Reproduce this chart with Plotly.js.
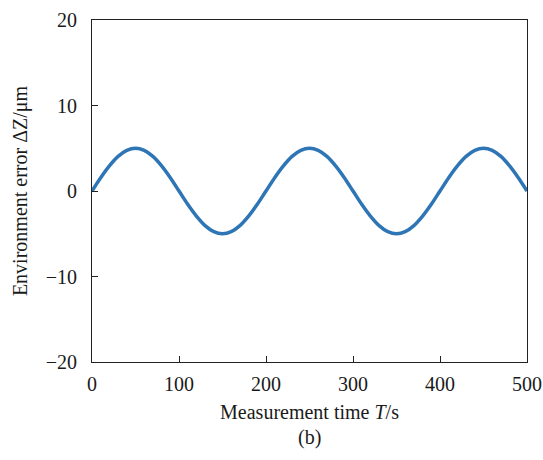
<!DOCTYPE html>
<html><head><meta charset="utf-8">
<script src="https://cdn.plot.ly/plotly-3.0.1.min.js"></script>
<style>html,body{margin:0;padding:0;background:#fff}#c{width:543px;height:460px}</style>
</head><body><div id="c"></div>
<script>
const timeS = [0,10,20,30,40,50,60,70,80,90,100,110,120,130,140,150,160,170,180,190,200,210,220,230,240,250,260,270,280,290,300,310,320,330,340,350,360,370,380,390,400,410,420,430,440,450,460,470,480,490,500];
const errorUm = [0,1.56,2.94,4.05,4.76,5.0,4.76,4.05,2.94,1.56,0,-1.56,-2.94,-4.05,-4.76,-5.0,-4.76,-4.05,-2.94,-1.56,0,1.56,2.94,4.05,4.76,5.0,4.76,4.05,2.94,1.56,0,-1.56,-2.94,-4.05,-4.76,-5.0,-4.76,-4.05,-2.94,-1.56,0,1.56,2.94,4.05,4.76,5.0,4.76,4.05,2.94,1.56,0];
const xTicks = [0,100,200,300,400,500];
const yTicks = [-20,-10,0,10,20];

const font = {family:'"Liberation Serif","Times New Roman",serif', size:20, color:'#1a1a1a'};
Plotly.newPlot('c', [{
  x: timeS, y: errorUm, type:'scatter', mode:'lines',
  line:{color:'#2e75b6', width:3.5, shape:'spline'}, hoverinfo:'skip'
}], {
  width:543, height:460,
  margin:{l:92, r:16, t:20, b:98},
  paper_bgcolor:'#fff', plot_bgcolor:'#fff',
  font: font,
  showlegend:false,
  xaxis:{range:[0,500], tickvals:xTicks, ticks:'inside', ticklen:6, tickcolor:'#222',
    showline:true, linecolor:'#222', linewidth:1, mirror:true, showgrid:false, zeroline:false,
    tickfont:font, ticklabelstandoff:4,
    title:{text:'Measurement time <i>T</i>/s', font:font, standoff:10}},
  yaxis:{range:[-20,20], tickvals:yTicks, ticks:'inside', ticklen:6, tickcolor:'#222',
    showline:true, linecolor:'#222', linewidth:1, mirror:true, showgrid:false, zeroline:false,
    tickfont:font, ticklabelstandoff:10,
    title:{text:'Environment error ΔZ/μm', font:font, standoff:12}},
  annotations:[{text:'(b)', xref:'paper', yref:'paper', x:0.5, y:-0.22, yanchor:'middle', showarrow:false, font:font}]
}, {staticPlot:true});
</script></body></html>
